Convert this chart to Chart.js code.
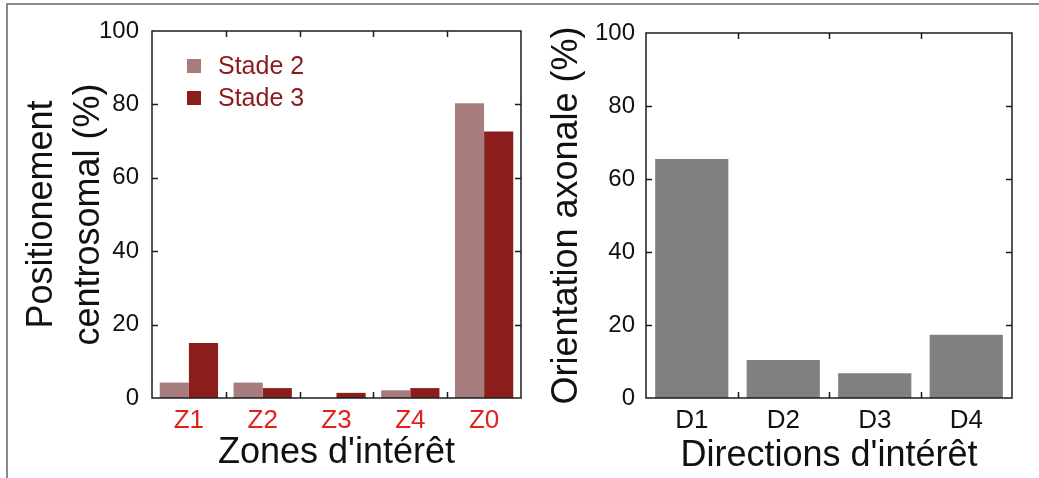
<!DOCTYPE html>
<html>
<head>
<meta charset="utf-8">
<script src="https://cdn.jsdelivr.net/npm/chart.js@4"></script>
<style>
  body { margin: 0; background: #fff; }
  #page { position: relative; width: 1039px; height: 478px; overflow: hidden; }
  #frame { position: absolute; left: 6px; top: 3px; right: -10px; bottom: -10px;
           border-top: 2px solid #8a8a8a; border-left: 2px solid #8a8a8a; }
  #leftBox { position: absolute; left: 0; top: 0; width: 540px; height: 478px; }
  #rightBox { position: absolute; left: 540px; top: 0; width: 499px; height: 478px; }
</style>
</head>
<body>
<div id="page">
  <div id="frame"></div>
  <div id="leftBox"><canvas id="zonesChart"></canvas></div>
  <div id="rightBox"><canvas id="dirChart"></canvas></div>
</div>
<script>
// zones d'intérêt (left panel)
const zones = ["Z1", "Z2", "Z3", "Z4", "Z0"];
const stade2 = [4.2, 4.2, 0, 2.1, 80.3];
const stade3 = [15.0, 2.7, 1.4, 2.7, 72.6];

// directions d'intérêt (right panel)
const directions = ["D1", "D2", "D3", "D4"];
const orientation = [65.5, 10.4, 6.8, 17.3];

const yTicks = [0, 20, 40, 60, 80, 100];

const FONT = "'Liberation Sans', Arial, sans-serif";

// closed box with small ticks pointing inward, like the original plot
const boxTicks = {
    id: "boxTicks",
    afterDatasetsDraw(chart) {
        const { ctx, chartArea: a, scales: { x, y } } = chart;
        ctx.save();
        ctx.strokeStyle = "#1c1c1c";
        ctx.lineWidth = 1.5;
        ctx.strokeRect(a.left, a.top, a.right - a.left, a.bottom - a.top);
        ctx.beginPath();
        y.ticks.forEach(t => {
            if (t.value <= y.min || t.value >= y.max) return;
            const py = Math.round(y.getPixelForValue(t.value)) + 0.5;
            ctx.moveTo(a.left, py); ctx.lineTo(a.left + 6, py);
            ctx.moveTo(a.right, py); ctx.lineTo(a.right - 6, py);
        });
        for (let i = 1; i < x.ticks.length; i++) {
            const px = Math.round((x.getPixelForTick(i - 1) + x.getPixelForTick(i)) / 2) + 0.5;
            ctx.moveTo(px, a.bottom); ctx.lineTo(px, a.bottom - 6);
            ctx.moveTo(px, a.top); ctx.lineTo(px, a.top + 6);
        }
        ctx.stroke();
        ctx.restore();
    }
};

// legend drawn inside the plot area
const innerLegend = {
    id: "innerLegend",
    afterDraw(chart) {
        const { ctx, chartArea: a } = chart;
        ctx.save();
        ctx.font = "25px " + FONT;
        ctx.textBaseline = "middle";
        chart.data.datasets.forEach((ds, i) => {
            const cy = a.top + 35 + i * 32;
            ctx.fillStyle = ds.backgroundColor;
            ctx.fillRect(a.left + 35, cy - 7, 14, 14);
            ctx.fillStyle = "#8b1a1a";
            ctx.fillText(ds.label, a.left + 66, cy + 1);
        });
        ctx.restore();
    }
};

function yScale(title, width, labelPad, titlePad, lineHeight) {
    return {
        min: 0,
        max: 100,
        afterBuildTicks: s => { s.ticks = yTicks.map(v => ({ value: v })); },
        afterFit: s => { s.width = width; },
        grid: { display: false, drawTicks: false },
        border: { display: false },
        ticks: { color: "#111", padding: labelPad, font: { family: FONT, size: 24 } },
        title: {
            display: true,
            text: title,
            color: "#111",
            padding: { top: titlePad, bottom: 0 },
            font: { family: FONT, size: 36, lineHeight: lineHeight }
        }
    };
}

function xScale(title, labelColor, titlePad) {
    return {
        afterFit: s => { s.height = 80; },
        grid: { display: false, drawTicks: false },
        border: { display: false },
        ticks: { color: labelColor, padding: 7, font: { family: FONT, size: 26 } },
        title: {
            display: true,
            text: title,
            color: "#111",
            padding: { top: 0, bottom: titlePad },
            font: { family: FONT, size: 36, lineHeight: 1.2 }
        }
    };
}

new Chart(document.getElementById("zonesChart"), {
    type: "bar",
    data: {
        labels: zones,
        datasets: [
            { label: "Stade 2", data: stade2, backgroundColor: "#a77c7c" },
            { label: "Stade 3", data: stade3, backgroundColor: "#8b1d1d" }
        ]
    },
    options: {
        responsive: true,
        maintainAspectRatio: false,
        animation: false,
        layout: { padding: { left: 0, right: 19, top: 31, bottom: 0 } },
        datasets: { bar: { categoryPercentage: 0.79, barPercentage: 1 } },
        scales: {
            x: xScale("Zones d'intérêt", "#e0211d", 3),
            y: yScale(["Positionement", "centrosomal (%)"], 152, 13, 19, 1.3)
        },
        plugins: { legend: { display: false }, tooltip: { enabled: false } }
    },
    plugins: [boxTicks, innerLegend]
});

new Chart(document.getElementById("dirChart"), {
    type: "bar",
    data: {
        labels: directions,
        datasets: [{ label: "Orientation", data: orientation, backgroundColor: "#808080" }]
    },
    options: {
        responsive: true,
        maintainAspectRatio: false,
        animation: false,
        layout: { padding: { left: 0, right: 27, top: 33, bottom: 0 } },
        datasets: { bar: { categoryPercentage: 0.8, barPercentage: 1 } },
        scales: {
            x: xScale("Directions d'intérêt", "#111", 0),
            y: yScale("Orientation axonale (%)", 106, 11, 5, 1.2)
        },
        plugins: { legend: { display: false }, tooltip: { enabled: false } }
    },
    plugins: [boxTicks]
});
</script>
</body>
</html>
